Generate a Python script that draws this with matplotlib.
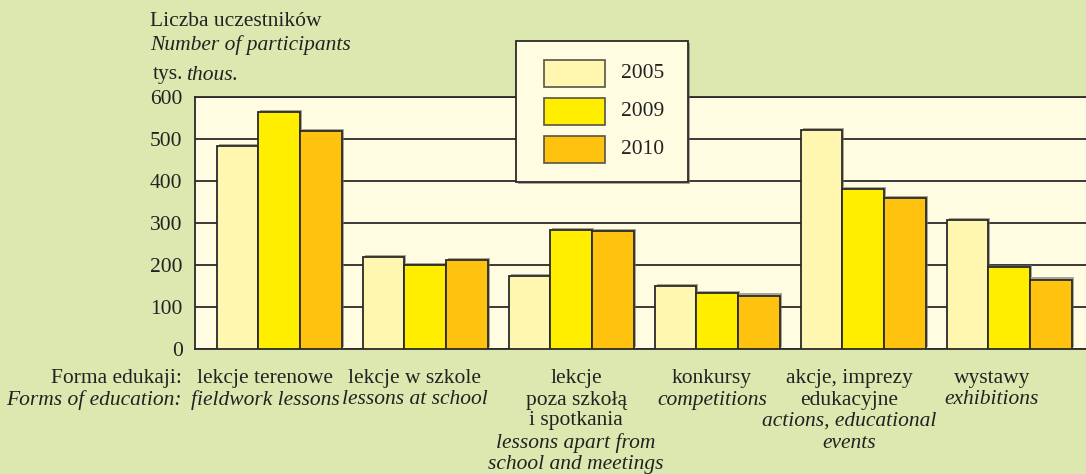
import matplotlib
matplotlib.use("Agg")
import matplotlib.pyplot as plt
import matplotlib.transforms as mtransforms
import matplotlib.patheffects as pe
from matplotlib.patches import Rectangle
import numpy as np

# Data: number of participants (thousands) by form of education
years = ["2005", "2009", "2010"]
v2005 = [485, 220, 174, 150, 522, 308]
v2009 = [564, 200, 285, 133, 381, 196]
v2010 = [520, 213, 281, 128, 360, 166]

labels_pl = [
    ["lekcje terenowe"],
    ["lekcje w szkole"],
    ["lekcje", "poza szkołą", "i spotkania"],
    ["konkursy"],
    ["akcje, imprezy", "edukacyjne"],
    ["wystawy"],
]
labels_en = [
    ["fieldwork lessons"],
    ["lessons at school"],
    ["lessons apart from", "school and meetings"],
    ["competitions"],
    ["actions, educational", "events"],
    ["exhibitions"],
]
yticks = [0, 100, 200, 300, 400, 500, 600]

colors = ["#FFF6B0", "#FFEE00", "#FFC20E"]
bg = "#DCE8B0"
plot_bg = "#FFFCE2"
edge = "#2a2a2a"
txt = "#222222"
fs = 15.5

plt.rcParams["font.family"] = ["Liberation Serif", "DejaVu Serif"]

W, H = 1086, 474
fig = plt.figure(figsize=(W / 100, H / 100), dpi=100, facecolor=bg)
ax = fig.add_axes([195 / W, 1 - 349.3 / H, 1 - 195 / W, (349.3 - 97.3) / H])
ax.set_facecolor(plot_bg)

x = np.arange(len(v2005))
bw = 125 / 146 / 3
shadow = [pe.SimplePatchShadow(offset=(1.5, 1.5), shadow_rgbFace="#6e6e60", alpha=0.6),
          pe.Normal()]
series = [v2005, v2009, v2010]
for k, (vals, c) in enumerate(zip(series, colors)):
    bars = ax.bar(x + (k - 1) * bw, vals, width=bw, color=c, edgecolor=edge,
                  linewidth=1.3, zorder=3, label=years[k])
    for b in bars:
        b.set_path_effects(shadow)

ax.set_ylim(0, 600)
ax.set_xlim((195 - 279) / 146, (1086 - 279) / 146)
ax.set_yticks(yticks)
ax.set_yticklabels([str(t) for t in yticks], fontsize=fs, color=txt)
ax.tick_params(axis="y", length=0, pad=9)
ax.set_xticks([])
ax.yaxis.grid(True, color=edge, linewidth=1.3, zorder=1)
ax.set_axisbelow(True)
ax.spines["right"].set_visible(False)
for s in ["left", "top", "bottom"]:
    ax.spines[s].set_color(edge)
    ax.spines[s].set_linewidth(1.3)

# Legend box (figure pixel layout)
def fx(px):
    return px / W

def fy(py):
    return 1 - py / H

box = Rectangle((fx(516), fy(182)), fx(688) - fx(516), fy(41) - fy(182),
                transform=fig.transFigure, facecolor=plot_bg, edgecolor=edge,
                linewidth=1.3, zorder=10)
box.set_path_effects([pe.SimplePatchShadow(offset=(1.5, -1.5), shadow_rgbFace="#6e6e60",
                                           alpha=0.6), pe.Normal()])
fig.add_artist(box)
for k, (yr, c) in enumerate(zip(years, colors)):
    top = 60 + 38 * k
    patch = Rectangle((fx(544), fy(top + 27)), fx(605) - fx(544), fy(top) - fy(top + 27),
                      transform=fig.transFigure, facecolor=c, edgecolor="#555548",
                      linewidth=1.2, zorder=11)
    fig.add_artist(patch)
    fig.text(fx(621), fy(top + 14), yr, fontsize=fs, color=txt, ha="left",
             va="center", zorder=12)

# Axis titles
fig.text(fx(150), fy(22), "Liczba uczestników", fontsize=fs, color=txt,
         va="center", ha="left")
fig.text(fx(150), fy(45), "Number of participants", fontsize=fs, style="italic",
         color=txt, va="center", ha="left")
fig.text(fx(153), fy(75), "tys.", fontsize=fs, color=txt, va="center", ha="left")
fig.text(fx(186), fy(75), "thous.", fontsize=fs, style="italic", color=txt,
         va="center", ha="left")

# Category labels below the axis
trans = mtransforms.blended_transform_factory(ax.transData, fig.transFigure)
label_shift_px = [-14, -10, 5, -5, -14, -17]
line_y = [379, 400, 421, 443, 465]
for i in range(len(x)):
    lines = [(t, "normal") for t in labels_pl[i]] + [(t, "italic") for t in labels_en[i]]
    xc = x[i] + label_shift_px[i] / 146
    for j, (t, st) in enumerate(lines):
        ax.text(xc, fy(line_y[j]), t, transform=trans, fontsize=fs,
                style=st, ha="center", va="center", color=txt, clip_on=False)

fig.text(fx(182), fy(379), "Forma edukaji:", fontsize=fs, ha="right",
         va="center", color=txt)
fig.text(fx(182), fy(400), "Forms of education:", fontsize=fs, style="italic",
         ha="right", va="center", color=txt)

fig.savefig("out.png", dpi=100, facecolor=bg)
